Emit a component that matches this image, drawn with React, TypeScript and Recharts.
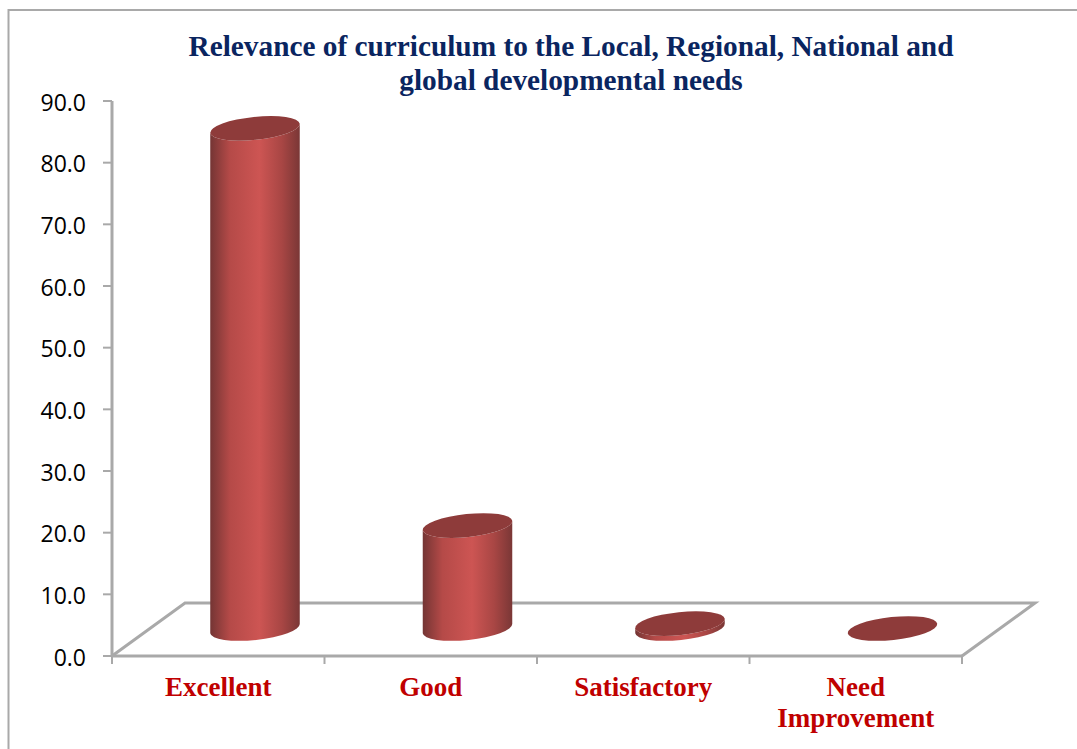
import React from "react";
import { BarChart, Bar, XAxis, YAxis, Customized } from "recharts";

const categories = ["Excellent", "Good", "Satisfactory", "Need Improvement"];
const values = [81.1, 16.7, 0.8, 0];
const yTicks = [0, 10, 20, 30, 40, 50, 60, 70, 80, 90];

const data = categories.map((name, i) => ({ name, value: values[i] }));

const W = 1077;
const H = 749;
const GREY = "#a9a9a9";
const LEFT = 112;
const RIGHT = 962;
const TOP = 101;
const BOTTOM = 656;
const DX = 73;
const DY = -53;
const BAND = (RIGHT - LEFT) / categories.length;
const RX = 45;
const RY = 11.5;
const ANG = -6;

function Cylinder(props: any) {
  const { x, y, width, height } = props;
  const cx = x + width / 2 + DX / 2 + 0.5;
  const base = y + height + DY / 2 - 1;
  const top = y + DY / 2 - 1;
  const rad = (ANG * Math.PI) / 180;
  const ex = RX * Math.cos(rad);
  const ey = RX * Math.sin(rad);
  const arc = `A${RX} ${RY} ${ANG} 0 `;
  const body =
    `M${cx - ex} ${top - ey}` +
    `L${cx - ex} ${base - ey}` +
    `${arc}0 ${cx + ex} ${base + ey}` +
    `L${cx + ex} ${top + ey}` +
    `${arc}1 ${cx - ex} ${top - ey}Z`;
  return (
    <g>
      {height > 0 && <path d={body} fill="url(#cyl)" />}
      <ellipse
        cx={cx}
        cy={top}
        rx={RX}
        ry={RY}
        fill="#8e3b3a"
        transform={`rotate(${ANG} ${cx} ${top})`}
      />
    </g>
  );
}

function Tick(props: any) {
  const { x, payload, index } = props;
  const words: string[] = payload.value === "Need Improvement" ? ["Need", "Improvement"] : [payload.value];
  return (
    <g>
      <line x1={x + BAND / 2} x2={x + BAND / 2} y1={BOTTOM} y2={BOTTOM + 8} stroke={GREY} strokeWidth={2} />
      {index === 0 && <line x1={x - BAND / 2} x2={x - BAND / 2} y1={BOTTOM} y2={BOTTOM + 8} stroke={GREY} strokeWidth={2} />}
      <text
        textAnchor="middle"
        fontFamily="Liberation Serif"
        fontWeight="bold"
        fontSize={27}
        fill="#c00000"
      >
        {words.map((w, i) => (
          <tspan key={w} x={x} y={696 + i * 31}>
            {w}
          </tspan>
        ))}
      </text>
    </g>
  );
}

function Backdrop() {
  return (
    <g>
      <defs>
        <linearGradient id="cyl" x1="0" y1="0" x2="1" y2="0">
          <stop offset="0" stopColor="#743534" />
          <stop offset="0.22" stopColor="#b54a48" />
          <stop offset="0.55" stopColor="#cd5553" />
          <stop offset="0.8" stopColor="#a84644" />
          <stop offset="1" stopColor="#7a3736" />
        </linearGradient>
      </defs>
      <path d={`M8.5 749V10H${W}`} fill="none" stroke={GREY} strokeWidth={2} />
      <path
        d={`M${LEFT} ${BOTTOM}L${LEFT + DX} ${BOTTOM + DY}H${RIGHT + DX}L${RIGHT} ${BOTTOM}`}
        fill="none"
        stroke={GREY}
        strokeWidth={3}
      />
      <text
        textAnchor="middle"
        fontFamily="Liberation Serif"
        fontWeight="bold"
        fontSize={29.3}
        fill="#0a2560"
      >
        <tspan x={571} y={56}>Relevance of curriculum to the Local, Regional, National and</tspan>
        <tspan x={571} y={90}>global developmental needs</tspan>
      </text>
    </g>
  );
}

export default function App() {
  return (
    <div style={{ position: "absolute", left: 0, top: 0, width: W, height: H, background: "#fff" }}>
      <BarChart
        width={W}
        height={H}
        data={data}
        barSize={RX * 2}
        margin={{ top: TOP, right: W - RIGHT, bottom: 0, left: 0 }}
      >
        <Customized component={Backdrop} />
        <YAxis
          width={LEFT}
          domain={[0, 90]}
          ticks={yTicks}
          interval={0}
          tickFormatter={(v: number) => v.toFixed(1)}
          axisLine={{ stroke: GREY, strokeWidth: 3 }}
          tickLine={{ stroke: GREY, strokeWidth: 2 }}
          tickSize={9}
          tickMargin={17}
          tick={{ fill: "#000", fontSize: 23, fontFamily: "Open Sans", dy: 1.5 }}
        />
        <XAxis
          dataKey="name"
          height={H - BOTTOM}
          interval={0}
          axisLine={{ stroke: GREY, strokeWidth: 3 }}
          tickLine={false}
          tick={<Tick />}
        />
        <Bar dataKey="value" shape={<Cylinder />} isAnimationActive={false} />
      </BarChart>
    </div>
  );
}
